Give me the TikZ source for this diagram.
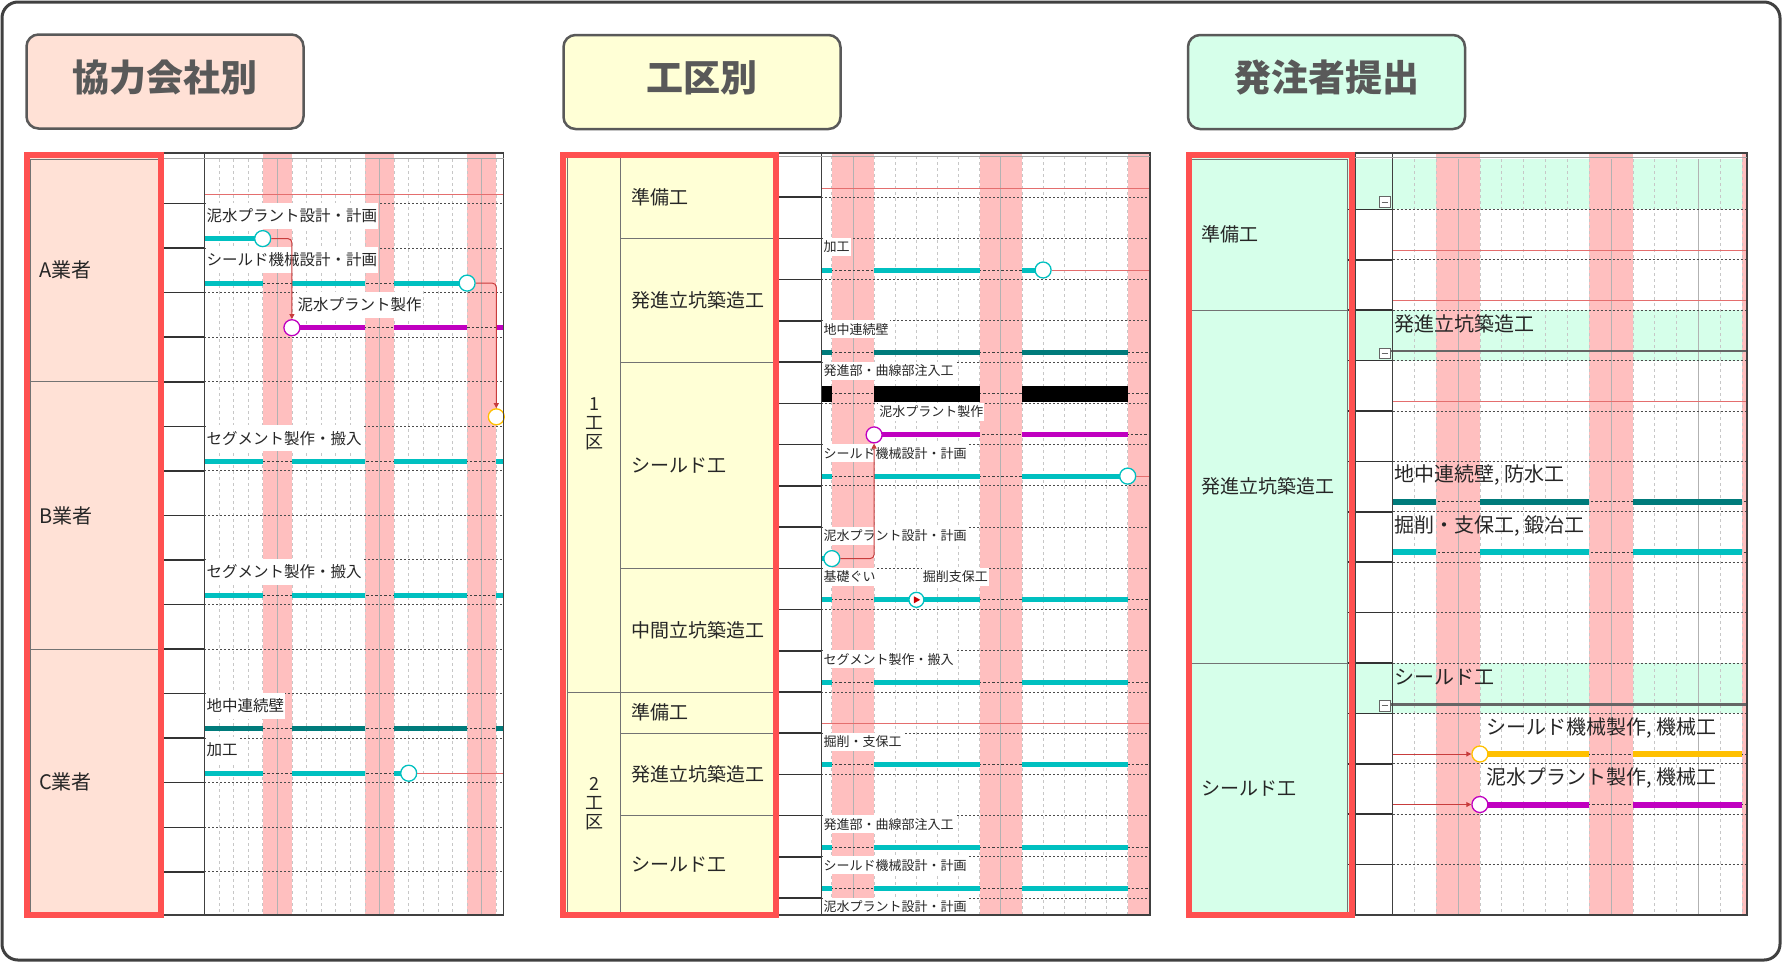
\documentclass[tikz,border=0pt]{standalone}
\usepackage{fontspec}
\setmainfont{Noto Sans CJK JP}
\usepackage{tikz}
\usetikzlibrary{arrows.meta,positioning,calc}

\definecolor{peach}{RGB}{255,225,214}
\definecolor{lemon}{RGB}{255,255,214}
\definecolor{mint}{RGB}{214,255,234}
\definecolor{holiday}{RGB}{255,191,191}
\definecolor{redframe}{RGB}{255,80,80}
\definecolor{titlegray}{RGB}{89,89,89}
\definecolor{teal1}{RGB}{0,192,192}
\definecolor{teal2}{RGB}{0,123,123}
\definecolor{purple1}{RGB}{192,0,192}
\definecolor{amber}{RGB}{255,192,0}
\definecolor{linkred}{RGB}{200,60,60}
\definecolor{planred}{RGB}{228,110,110}

\begin{document}
\begin{tikzpicture}[x=1pt, y=-1pt,
  title/.style={draw=titlegray, line width=2.5pt, rounded corners=12pt, minimum width=277pt, minimum height=94pt, text height=25pt, text depth=6pt, text=titlegray, font=\fontsize{37}{40}\selectfont\bfseries},
  cell/.style={draw=black!55, line width=1pt},
  catlabel/.style={anchor=west, inner sep=0pt, text=black!85, font=\fontsize{19}{21}\selectfont},
  zonelabel/.style={align=center, inner sep=0pt, text=black!85, font=\fontsize{18}{19}\selectfont},
  redbox/.style={draw=redframe, line width=6pt},
  chartframe/.style={draw=black!75, line width=1.5pt},
  rowline/.style={draw=black!80, line width=1.5pt},
  dotrow/.style={draw=black!70, line width=1pt, dash pattern=on 2pt off 2pt},
  dayline/.style={draw=black!22, line width=0.8pt, dash pattern=on 3pt off 3pt},
  weekline/.style={draw=black!30, line width=0.8pt},
  gapline/.style={draw=black!75, line width=1pt, dash pattern=on 2.5pt off 2pt},
  planline/.style={draw=planred, line width=1pt},
  bar/.style={line width=5pt},
  dot/.style={circle, fill=white, line width=1.3pt, minimum size=16pt, inner sep=0pt},
  link/.style={draw=linkred, line width=1pt, rounded corners=4pt, -{Triangle[length=5pt,width=5pt]}},
  tasklbl/.style={anchor=west, inner xsep=1pt, inner ysep=0pt, text=black!85},
  lblA/.style={tasklbl, fill=white, minimum height=26pt, font=\fontsize{15.5}{17}\selectfont},
  lblB/.style={tasklbl, fill=white, minimum height=18pt, font=\fontsize{13}{14}\selectfont},
  lblC/.style={tasklbl, font=\fontsize{20}{22}\selectfont}
]
\useasboundingbox (0,0) rectangle (1782,962);
\draw[line width=3pt, draw=black!75, rounded corners=16pt] (2,2) rectangle (1780,960);

%% ===== panel 1 : by company
\node[title, fill=peach] (title1) at (165,81.5) {協力会社別};
\fill[peach] (27.3,155) rectangle (160.6,915);
\draw[cell] (30.4,159) rectangle (158.2,915);
\draw[cell] (30.4,381.8) -- (158.2,381.8) (30.4,649) -- (158.2,649);
\node[catlabel, font=\fontsize{20}{22}\selectfont] (coA) at (39,270) {A業者};
\node[catlabel, font=\fontsize{20}{22}\selectfont] (coB) at (39,515.4) {B業者};
\node[catlabel, font=\fontsize{20}{22}\selectfont] (coC) at (39,782) {C業者};
% calendar
\foreach \n in {4,11,18}
  \fill[holiday] ({204.3+14.6*\n},153) rectangle ({204.3+14.6*(\n+2)},915);
\foreach \n in {1,...,20}
  \draw[dayline] ({204.3+14.6*\n},159) -- ({204.3+14.6*\n},915);
\foreach \n in {5,12,19}
  \draw[weekline] ({204.3+14.6*\n},159) -- ({204.3+14.6*\n},915);
\foreach \k in {1,...,16} {
  \draw[rowline] (163.6,{159+44.55*\k}) -- (204.3,{159+44.55*\k});
  \draw[dotrow] (204.3,{159+44.55*\k}) -- (503.6,{159+44.55*\k});
}
\draw[planline] (204.3,194) -- (503.6,194);
% tasks
\node[lblA] (a1) at (205.5,215.5) {泥水プラント設計・計画};
\node[lblA] (a2) at (205.5,260.1) {シールド機械設計・計画};
\node[lblA] (a3) at (296.4,304.7) {泥水プラント製作};
\node[lblA] (a6) at (205.5,438.3) {セグメント製作・搬入};
\node[lblA] (a9) at (205.5,572) {セグメント製作・搬入};
\node[lblA] (a12) at (205.5,705.6) {地中連続壁};
\node[lblA] (a13) at (205.5,750.2) {加工};
\draw[bar, teal1] (204.3,238.6) -- (262.7,238.6);
\draw[gapline] (204.3,283.1) -- (467.1,283.1);
\foreach \xa/\xb in {204.3/262.7, 291.9/364.9, 394.1/467.1}
  \draw[bar, teal1] (\xa,283.1) -- (\xb,283.1);
\draw[gapline] (291.9,327.7) -- (503.6,327.7);
\foreach \xa/\xb in {291.9/364.9, 394.1/467.1, 496.3/503.6}
  \draw[bar, purple1] (\xa,327.7) -- (\xb,327.7);
\foreach \y/\c in {461.3/teal1, 595/teal1, 728.6/teal2} {
  \draw[gapline] (204.3,\y) -- (503.6,\y);
  \foreach \xa/\xb in {204.3/262.7, 291.9/364.9, 394.1/467.1, 496.3/503.6}
    \draw[bar, \c] (\xa,\y) -- (\xb,\y);
}
\draw[gapline] (204.3,773.2) -- (408.7,773.2);
\foreach \xa/\xb in {204.3/262.7, 291.9/364.9, 394.1/408.7}
  \draw[bar, teal1] (\xa,773.2) -- (\xb,773.2);
\node[dot, draw=teal1] (m1) at (262.7,238.6) {};
\node[dot, draw=teal1] (m2) at (467.1,283.1) {};
\node[dot, draw=purple1] (m3) at (291.9,327.7) {};
\node[dot, draw=amber] (m5) at (496.3,416.8) {};
\node[dot, draw=teal1] (m13) at (408.7,773.2) {};
\coordinate (e13) at (503.6,773.2);
\draw[link] (m1.east) -| (m3.north);
\draw[link] (m2.east) -| (m5.north);
\draw[planline] (m13.east) -- (e13);
\draw[chartframe] (163.6,153) rectangle (503.6,915);
\draw[chartframe] (204.3,153) -- (204.3,915);
\draw[black!35] (163.6,158.5) -- (503.6,158.5);
\draw[redbox] (27.3,155) rectangle (160.6,915);

%% ===== panel 2 : by section
\node[title, fill=lemon] (title2) at (702,82) {工区別};
\fill[lemon] (562.9,155) rectangle (775.5,915);
\draw[cell] (567.8,156) rectangle (773.4,915);
\draw[cell] (620.4,156) -- (620.4,915);
\foreach \y in {238.5, 362.2, 568.3, 733.2, 815.7}
  \draw[cell] (620.4,\y) -- (773.4,\y);
\draw[cell] (567.8,692) -- (773.4,692);
\node[zonelabel] (zone1) at (594.1,424) {1\\工\\区};
\node[zonelabel] (zone2) at (594.1,803.5) {2\\工\\区};
\node[catlabel] (w1) at (631,197.2) {準備工};
\node[catlabel] (w2) at (631,300.3) {発進立坑築造工};
\node[catlabel] (w3) at (631,465.2) {シールド工};
\node[catlabel] (w4) at (631,630.1) {中間立坑築造工};
\node[catlabel] (w5) at (631,712.6) {準備工};
\node[catlabel] (w6) at (631,774.5) {発進立坑築造工};
\node[catlabel] (w7) at (631,865) {シールド工};
% calendar
\fill[holiday] (831.8,153) rectangle (874.1,915);
\fill[holiday] (979.7,153) rectangle (1022,915);
\fill[holiday] (1127.7,153) rectangle (1150.2,915);
\foreach \n in {1,...,15}
  \draw[dayline] ({810.7+21.13*\n},156) -- ({810.7+21.13*\n},915);
\foreach \n in {2,9}
  \draw[weekline] ({810.7+21.13*\n},156) -- ({810.7+21.13*\n},915);
\foreach \k in {1,...,18} {
  \draw[rowline] (778.5,{156+41.23*\k}) -- (821.3,{156+41.23*\k});
  \draw[dotrow] (821.3,{156+41.23*\k}) -- (1150.2,{156+41.23*\k});
}
\draw[planline] (821.3,188) -- (1150.2,188);
\draw[planline] (821.3,723.5) -- (1150.2,723.5);
% tasks
\node[lblB] (b2) at (822.3,247) {加工};
\node[lblB] (b4) at (822.3,329.4) {地中連続壁};
\node[lblB] (b5) at (822.3,370.7) {発進部・曲線部注入工};
\node[lblB] (b6) at (878.2,411.9) {泥水プラント製作};
\node[lblB] (b7) at (822.3,453.1) {シールド機械設計・計画};
\node[lblB] (b9) at (822.3,535.6) {泥水プラント設計・計画};
\node[lblB] (b10) at (822.3,576.8) {基礎ぐい};
\node[lblB] (b10x) at (921.7,576.8) {掘削支保工};
\node[lblB] (b12) at (822.3,659.3) {セグメント製作・搬入};
\node[lblB] (b14) at (822.3,741.7) {掘削・支保工};
\node[lblB] (b16) at (822.3,824.2) {発進部・曲線部注入工};
\node[lblB] (b17) at (822.3,865.4) {シールド機械設計・計画};
\node[lblB] (b18) at (822.3,906.6) {泥水プラント設計・計画};
\draw[gapline] (821.3,270) -- (1043.1,270);
\foreach \xa/\xb in {821.3/831.8, 874.1/979.7, 1022/1043.1}
  \draw[bar, teal1] (\xa,270) -- (\xb,270);
\foreach \y/\c in {352.4/teal2, 599.8/teal1, 682.3/teal1, 764.7/teal1, 847.2/teal1, 888.4/teal1} {
  \draw[gapline] (821.3,\y) -- (1150.2,\y);
  \foreach \xa/\xb in {821.3/831.8, 874.1/979.7, 1022/1127.7}
    \draw[bar, \c] (\xa,\y) -- (\xb,\y);
}
\draw[gapline] (821.3,393.7) -- (1150.2,393.7);
\foreach \xa/\xb in {821.3/831.8, 874.1/979.7, 1022/1127.7}
  \draw[line width=16pt] (\xa,393.7) -- (\xb,393.7);
\draw[gapline] (874.1,434.9) -- (1150.2,434.9);
\foreach \xa/\xb in {874.1/979.7, 1022/1127.7}
  \draw[bar, purple1] (\xa,434.9) -- (\xb,434.9);
\draw[gapline] (821.3,476.1) -- (1127.7,476.1);
\foreach \xa/\xb in {821.3/831.8, 874.1/979.7, 1022/1127.7}
  \draw[bar, teal1] (\xa,476.1) -- (\xb,476.1);
\draw[bar, teal1] (821.3,558.6) -- (831.8,558.6);
\node[dot, draw=teal1] (n2) at (1043.1,270) {};
\node[dot, draw=purple1] (n6) at (874.1,434.9) {};
\node[dot, draw=teal1] (n7) at (1127.7,476.1) {};
\node[dot, draw=teal1] (n9) at (831.8,558.6) {};
\node[dot, draw=teal1, minimum size=15pt] (n10) at (916.4,599.8) {};
\fill[red!80!black] ($(n10)+(-2.5,-3.5)$) -- ($(n10)+(3.8,0)$) -- ($(n10)+(-2.5,3.5)$) -- cycle;
\coordinate (e2) at (1150.2,270);
\coordinate (e7) at (1150.2,476.1);
\draw[planline] (n2.east) -- (e2);
\draw[planline] (n7.east) -- (e7);
\draw[link] (n9.east) -| (n6.south);
\draw[chartframe] (778.5,153) rectangle (1150.2,915);
\draw[chartframe] (821.3,153) -- (821.3,915);
\draw[black!35] (778.5,156) -- (1150.2,156);
\draw[redbox] (562.9,155) rectangle (775.5,915);

%% ===== panel 3 : for the client
\node[title, fill=mint] (title3) at (1326.5,82) {発注者提出};
\fill[mint] (1188.6,155) rectangle (1352.4,915);
\draw[cell] (1190.7,159) rectangle (1347.6,915);
\draw[cell] (1190.7,310.2) -- (1347.6,310.2) (1190.7,663) -- (1347.6,663);
\node[catlabel] (g1) at (1201,234.6) {準備工};
\node[catlabel] (g2) at (1201,486.6) {発進立坑築造工};
\node[catlabel] (g3) at (1201,789) {シールド工};
% calendar
\foreach \y in {159, 310.2, 663}
  \fill[mint] (1352.4,\y) rectangle (1747,{\y+50.4});
\fill[holiday] (1436.2,153) rectangle (1479.9,915);
\fill[holiday] (1589.2,153) rectangle (1633,915);
\fill[holiday] (1742.3,153) rectangle (1747,915);
\foreach \n in {1,...,16}
  \draw[dayline] ({1392.5+21.86*\n},159) -- ({1392.5+21.86*\n},915);
\foreach \n in {3,10,14}
  \draw[weekline] ({1392.5+21.86*\n},159) -- ({1392.5+21.86*\n},915);
\foreach \k in {1,...,14} {
  \draw[rowline] (1347.6,{159+50.4*\k}) -- (1392.5,{159+50.4*\k});
  \draw[dotrow] (1392.5,{159+50.4*\k}) -- (1747,{159+50.4*\k});
}
\foreach \y in {250.4, 300.8, 401.6}
  \draw[planline] (1392.5,\y) -- (1747,\y);
\draw[black!60, line width=2.5pt] (1390,351.2) -- (1747,351.2);
\draw[black!60, line width=2.5pt] (1390,704.4) -- (1747,704.4);
\foreach \y in {202, 353.5, 705.7} {
  \draw[black!60, fill=white, line width=1pt] (1379.4,{\y-5.3}) rectangle (1390,{\y+5.3});
  \draw[black!60, line width=1pt] (1381.5,\y) -- (1387.9,\y);
}
% tasks
\node[lblC] (h3) at (1393,323.5) {発進立坑築造工};
\node[lblC] (h10) at (1393,677) {シールド工};
\node[lblC] (c6) at (1393,475) {地中連続壁, 防水工};
\node[lblC] (c7) at (1393,526) {掘削・支保工, 鍛冶工};
\node[lblC] (c11) at (1485.4,728) {シールド機械製作, 機械工};
\node[lblC] (c12) at (1485.4,778) {泥水プラント製作, 機械工};
\foreach \y/\c in {501.9/teal2, 552.3/teal1} {
  \draw[gapline] (1392.5,\y) -- (1747,\y);
  \foreach \xa/\xb in {1392.5/1436.2, 1479.9/1589.2, 1633/1742.3}
    \draw[bar, line width=6pt, \c] (\xa,\y) -- (\xb,\y);
}
\foreach \y/\c in {754/amber, 804.5/purple1} {
  \draw[gapline] (1479.9,\y) -- (1747,\y);
  \foreach \xa/\xb in {1479.9/1589.2, 1633/1742.3}
    \draw[bar, line width=6pt, \c] (\xa,\y) -- (\xb,\y);
}
\node[dot, draw=amber] (q11) at (1479.9,754) {};
\node[dot, draw=purple1] (q12) at (1479.9,804.5) {};
\coordinate (s11) at (1392.5,754);
\coordinate (s12) at (1392.5,804.5);
\draw[link] (s11) -- (q11.west);
\draw[link] (s12) -- (q12.west);
\draw[chartframe] (1355.4,153) rectangle (1747,915);
\draw[chartframe] (1392.5,153) -- (1392.5,915);
\draw[black!35] (1355.4,157) -- (1747,157);
\draw[redbox] (1188.6,155) rectangle (1352.4,915);
\end{tikzpicture}
\end{document}
